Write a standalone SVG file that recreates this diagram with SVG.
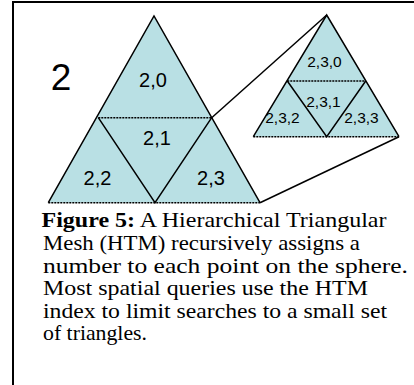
<svg xmlns="http://www.w3.org/2000/svg" width="414" height="385" viewBox="0 0 414 385">
<style>
.tri{fill:#b9e0e4;stroke:none}
.solid{stroke:#000;stroke-width:1.5;fill:none}
.dash{stroke:#000;stroke-width:1.5;fill:none;stroke-dasharray:2 1}
.lbl{font-family:"Liberation Sans",Arial,sans-serif;fill:#000;text-anchor:middle}
.big{font-size:20px}
.small{font-size:15.5px}
.cap{font-family:"Liberation Serif","Times New Roman",serif;font-size:21.5px;fill:#000}
</style>
<rect x="0" y="0" width="414" height="385" fill="#fff"/>
<g id="frame">
<line x1="13" y1="2" x2="414" y2="2" stroke="#000" stroke-width="2"/>
<line x1="13" y1="1" x2="13" y2="385" stroke="#000" stroke-width="2"/>
</g>
<text class="lbl" x="61" y="90" font-size="37">2</text>
<g id="big-triangle">
<polygon class="tri" points="154,16 260,202.7 48.3,202.7"/>
<path class="solid" d="M48.3,202.7 L154,16 L260,202.7"/>
<path class="solid" d="M98.3,117.7 L155,202.7 L211.7,117.7"/>
<line class="dash" x1="98.3" y1="117.7" x2="211.7" y2="117.7"/>
<line class="dash" x1="48.3" y1="202.7" x2="260" y2="202.7"/>
<g id="t20"><text class="lbl big" x="153" y="87">2,0</text></g>
<g id="t21"><text class="lbl big" x="157" y="145">2,1</text></g>
<g id="t22"><text class="lbl big" x="97.5" y="185">2,2</text></g>
<g id="t23"><text class="lbl big" x="211" y="185">2,3</text></g>
</g>
<g id="small-triangle">
<polygon class="tri" points="326.7,15 399,136.7 253.3,136.7"/>
<path class="solid" d="M253.3,136.7 L326.7,15 L399,136.7"/>
<path class="solid" d="M287.3,81 L326.7,136.7 L365.7,81"/>
<line class="dash" x1="287.3" y1="81" x2="365.7" y2="81"/>
<line class="dash" x1="253.3" y1="136.7" x2="399" y2="136.7"/>
<g id="t230"><text class="lbl small" x="324.5" y="67">2,3,0</text></g>
<g id="t231"><text class="lbl small" x="323.5" y="107">2,3,1</text></g>
<g id="t232"><text class="lbl small" x="282.5" y="123">2,3,2</text></g>
<g id="t233"><text class="lbl small" x="361.5" y="123">2,3,3</text></g>
</g>
<g id="connectors">
<line class="solid" x1="211.7" y1="117.7" x2="326.7" y2="15"/>
<line class="solid" x1="260" y1="202.7" x2="399" y2="136.7"/>
</g>
<g id="caption">
<text class="cap" x="41.5" y="227" textLength="345" lengthAdjust="spacingAndGlyphs"><tspan font-weight="bold">Figure 5:</tspan> A Hierarchical Triangular</text>
<text class="cap" x="43" y="250" textLength="317" lengthAdjust="spacingAndGlyphs">Mesh (HTM) recursively assigns a</text>
<text class="cap" x="43" y="273" textLength="365" lengthAdjust="spacingAndGlyphs">number to each point on the sphere.</text>
<text class="cap" x="43" y="295" textLength="325" lengthAdjust="spacingAndGlyphs">Most spatial queries use the HTM</text>
<text class="cap" x="43" y="318" textLength="344" lengthAdjust="spacingAndGlyphs">index to limit searches to a small set</text>
<text class="cap" x="43" y="340" textLength="104" lengthAdjust="spacingAndGlyphs">of triangles.</text>
</g>
</svg>
